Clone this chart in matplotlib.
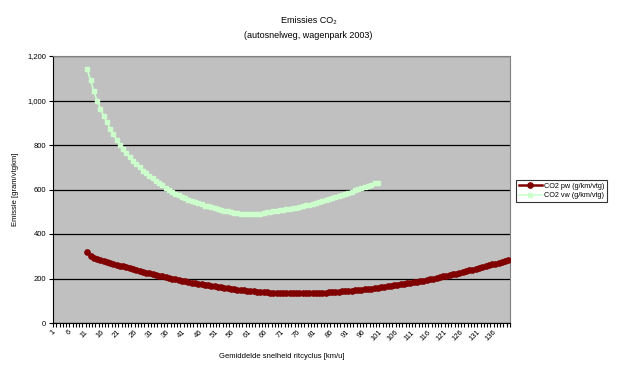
import matplotlib
matplotlib.use("Agg")
import matplotlib.pyplot as plt
from matplotlib.ticker import FuncFormatter, FixedLocator

plt.rcParams["font.family"] = ["Liberation Sans", "DejaVu Sans"]

# categories: average trip speed 1..140 km/u
speeds = list(range(1, 141))
tick_labels = list(range(1, 137, 5))

# CO2 pw (g/km/vtg), speeds 11..140
pw_speeds = list(range(11, 141))
pw_values = [
    319, 302, 294, 288, 283, 279, 275, 271, 266, 262,
    258, 254, 250, 246, 242, 238, 234, 230, 226, 223,
    219, 216, 213, 209, 206, 203, 200, 197, 194, 191,
    188, 185, 182, 179, 177, 174, 172, 169, 167, 165,
    162, 160, 158, 156, 154, 152, 150, 148, 147, 145,
    144, 142, 141, 140, 139, 138, 137, 136, 135, 134,
    134, 133, 133, 133, 133, 133, 133, 133, 134, 134,
    135, 135, 136, 137, 138, 139, 140, 141, 142, 143,
    145, 146, 147, 148, 150, 152, 153, 155, 157, 159,
    161, 163, 165, 167, 169, 171, 174, 176, 178, 181,
    183, 186, 189, 191, 194, 197, 200, 203, 206, 209,
    212, 215, 219, 222, 225, 229, 232, 236, 240, 243,
    247, 251, 255, 259, 263, 267, 271, 276, 280, 284,
]

# CO2 vw (g/km/vtg), speeds 11..100
vw_speeds = list(range(11, 101))
vw_values = [
    1140, 1090, 1042, 1000, 964, 932, 902, 874, 848, 824,
    802, 781, 763, 746, 730, 714, 699, 685, 673, 662,
    650, 639, 628, 618, 608, 599, 590, 582, 574, 566,
    560, 554, 548, 543, 538, 533, 528, 524, 520, 516,
    512, 508, 505, 502, 499, 496, 494, 492, 490, 489,
    489, 489, 490, 492, 494, 497, 499, 502, 504, 506,
    508, 511, 513, 516, 519, 522, 525, 529, 532, 536,
    540, 544, 548, 552, 556, 561, 566, 571, 576, 581,
    586, 591, 597, 602, 607, 612, 617, 622, 627, 630,
]

fig = plt.figure(figsize=(6.17, 3.89), dpi=100)
fig.patch.set_facecolor("white")
ax = fig.add_axes([53 / 617, 66 / 389, 457 / 617, 267 / 389])
ax.set_facecolor("#C0C0C0")

ax.plot(pw_speeds, pw_values, color="#800000", lw=1.8, marker="o",
        ms=3.8, mec="#800000", mfc="#800000", label="CO2 pw (g/km/vtg)",
        zorder=3)
ax.plot(vw_speeds, vw_values, color="#CCFFCC", lw=1.2, marker="s",
        ms=3.5, mec="#CCFFCC", mfc="#CCFFCC", label="CO2 vw (g/km/vtg)",
        zorder=3)

ax.set_xlim(0.5, 140.5)
ax.set_ylim(0, 1200)
ax.set_yticks(range(0, 1201, 200))
ax.yaxis.set_major_formatter(FuncFormatter(lambda v, p: f"{int(v):,}"))
ax.grid(axis="y", color="black", lw=0.9)
ax.set_axisbelow(True)

ax.xaxis.set_major_locator(FixedLocator(tick_labels))
ax.set_xticklabels([str(t) for t in tick_labels], rotation=45, ha="right",
                   va="center", rotation_mode="anchor")
ax.xaxis.set_minor_locator(FixedLocator([s + 0.5 for s in [0] + speeds]))
ax.tick_params(axis="x", which="major", length=0, labelsize=5.5, pad=6)
ax.tick_params(axis="x", which="minor", length=3, width=0.8, direction="out")
ax.tick_params(axis="y", length=3, width=0.8, labelsize=5.5, pad=2)

for side in ("top", "right"):
    ax.spines[side].set_color("#808080")
for side in ("left", "bottom"):
    ax.spines[side].set_color("black")

ax.set_xlabel("Gemiddelde snelheid ritcyclus [km/u]", fontsize=5.5, labelpad=7)
ax.set_ylabel("Emissie [gram/vtgkm]", fontsize=5.5, labelpad=6)

fig.text(0.5, 1 - 21 / 389, "Emissies CO\u2082", ha="center", va="center",
         fontsize=6.5)
fig.text(0.5, 1 - 36 / 389, "(autosnelweg, wagenpark 2003)", ha="center",
         va="center", fontsize=6.5)

leg = fig.legend(loc="upper left", bbox_to_anchor=(516 / 617, 1 - 180 / 389),
                 fontsize=5.2, frameon=True, fancybox=False, borderpad=0.35,
                 handlelength=3.2, handletextpad=0.3, labelspacing=0.35,
                 borderaxespad=0)
leg.get_frame().set_edgecolor("black")
leg.get_frame().set_linewidth(0.8)

fig.savefig("out.png", dpi=100)
